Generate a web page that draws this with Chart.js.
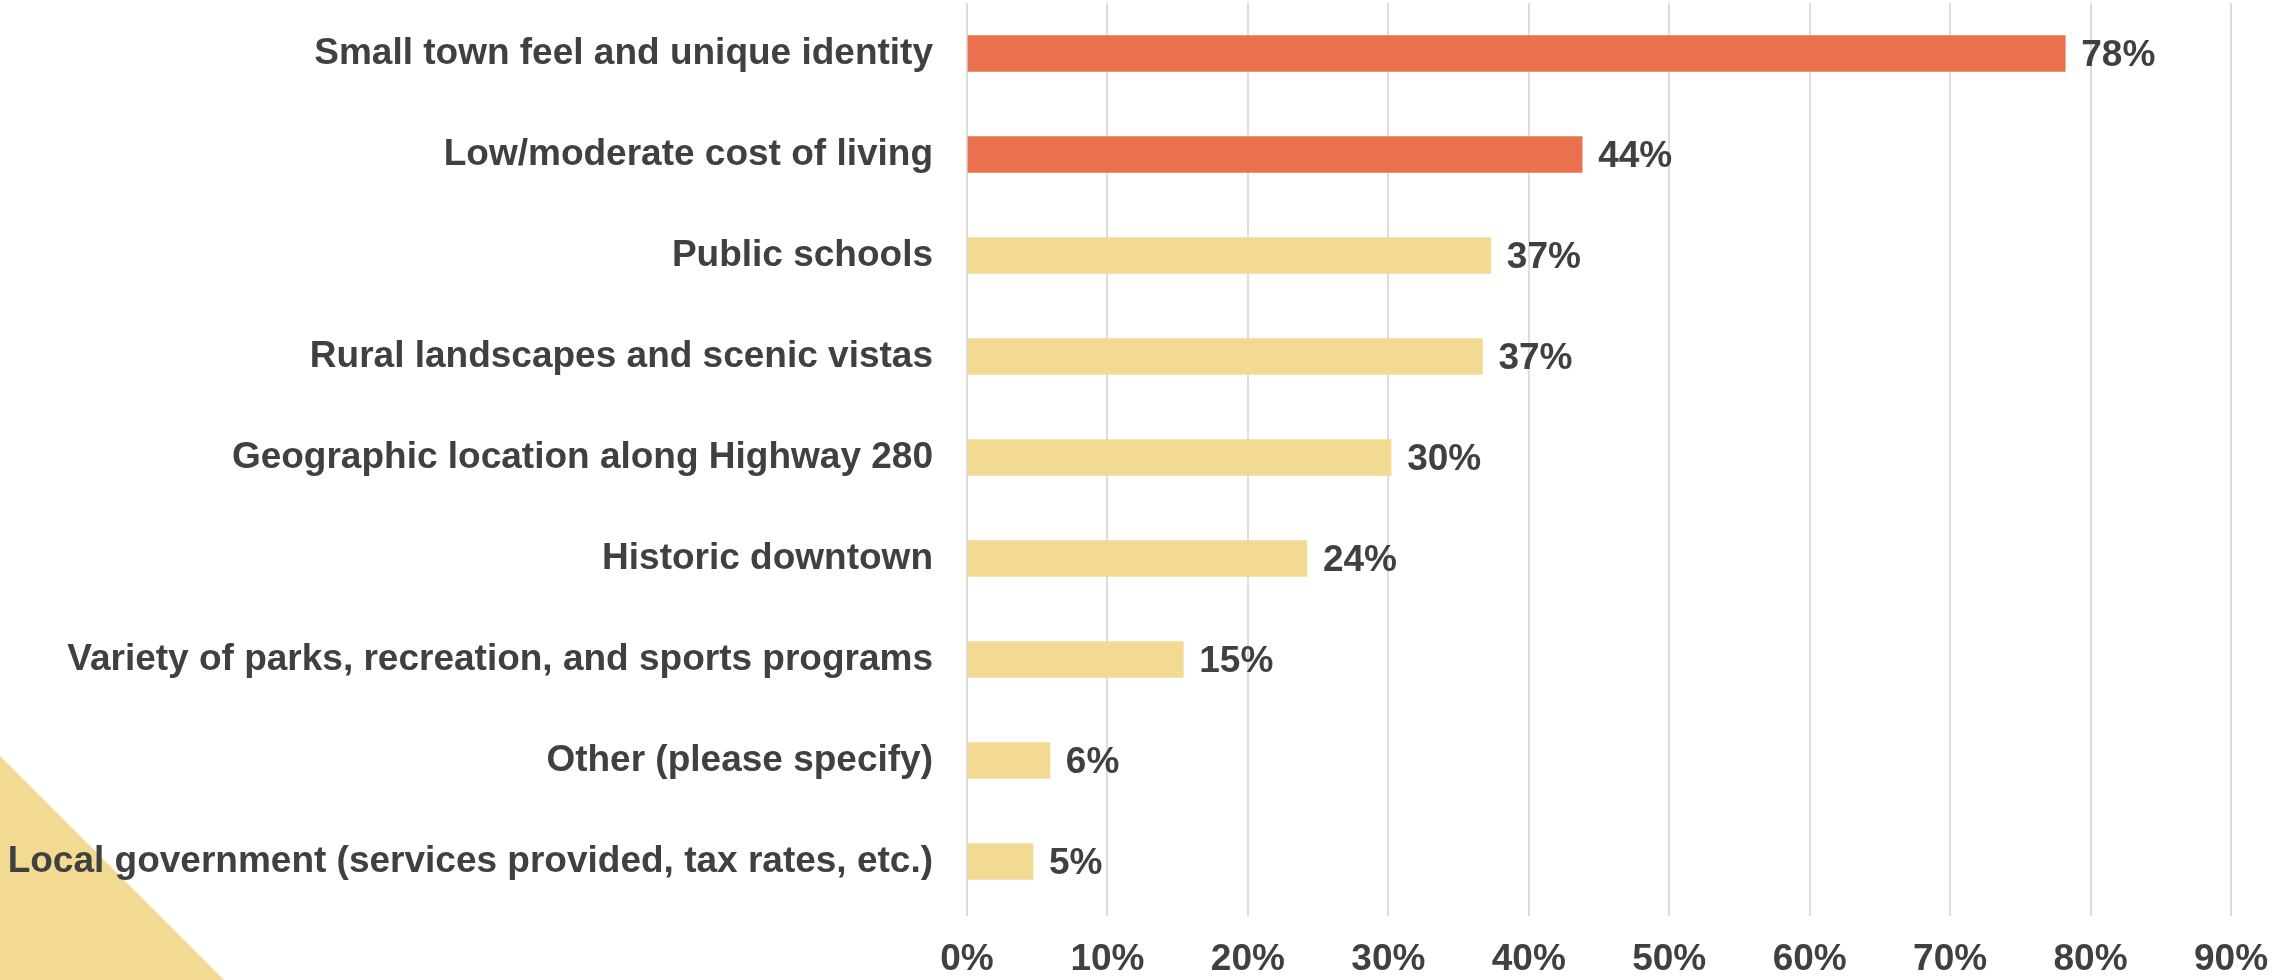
<!DOCTYPE html>
<html>
<head>
<meta charset="utf-8">
<script src="https://cdn.jsdelivr.net/npm/chart.js@4"></script>
<style>
  html, body { margin: 0; padding: 0; background: #fff; }
  #wrap { position: relative; width: 2272px; height: 980px; }
</style>
</head>
<body>
<div id="wrap"><canvas id="chart" width="2272" height="980"></canvas></div>
<script>
var categories = [
    'Small town feel and unique identity',
    'Low/moderate cost of living',
    'Public schools',
    'Rural landscapes and scenic vistas',
    'Geographic location along Highway 280',
    'Historic downtown',
    'Variety of parks, recreation, and sports programs',
    'Other (please specify)',
    'Local government (services provided, tax rates, etc.)'
];
var shares = [78.2, 43.8, 37.3, 36.7, 30.2, 24.2, 15.4, 5.9, 4.7];
var highlighted = [true, true, false, false, false, false, false, false, false];
var xTicks = [0, 10, 20, 30, 40, 50, 60, 70, 80, 90];

var ORANGE = '#E9714E';
var YELLOW = '#F2DA92';
var TEXT = '#404040';
var FONT = '"Liberation Sans", Arial, sans-serif';

// yellow corner in the bottom left
var cornerPlugin = {
    id: 'corner',
    beforeDraw: function (chart) {
        var ctx = chart.ctx;
        ctx.save();
        ctx.fillStyle = YELLOW;
        ctx.beginPath();
        ctx.moveTo(0, 756);
        ctx.lineTo(224, 980);
        ctx.lineTo(0, 980);
        ctx.closePath();
        ctx.fill();
        ctx.restore();
    }
};

// percentage labels at bar ends
var valueLabels = {
    id: 'valueLabels',
    afterDatasetsDraw: function (chart) {
        var ctx = chart.ctx;
        var meta = chart.getDatasetMeta(0);
        ctx.save();
        ctx.font = 'bold 37px ' + FONT;
        ctx.fillStyle = TEXT;
        ctx.textAlign = 'left';
        ctx.textBaseline = 'middle';
        meta.data.forEach(function (bar, i) {
            ctx.fillText(Math.round(shares[i]) + '%', bar.x + 16, bar.y + 2);
        });
        ctx.restore();
    }
};

new Chart(document.getElementById('chart'), {
    type: 'bar',
    data: {
        labels: categories,
        datasets: [{
            data: shares,
            backgroundColor: highlighted.map(function (h) { return h ? ORANGE : YELLOW; }),
            borderWidth: 0,
            barThickness: 36
        }]
    },
    options: {
        indexAxis: 'y',
        responsive: false,
        animation: false,
        layout: { padding: { top: 3, right: 41, bottom: 0, left: 0 } },
        plugins: {
            legend: { display: false },
            tooltip: { enabled: false }
        },
        scales: {
            x: {
                min: 0,
                max: 90,
                afterBuildTicks: function (scale) {
                    scale.ticks = xTicks.map(function (v) { return { value: v }; });
                },
                grid: { color: '#DDDDDD', lineWidth: 2, drawTicks: true, tickLength: 4 },
                border: { display: false },
                ticks: {
                    padding: 22,
                    color: TEXT,
                    font: { family: FONT, size: 37, weight: 'bold' },
                    callback: function (v) { return v + '%'; }
                },
                afterFit: function (scale) {
                    scale.height = 68;
                    scale.paddingLeft = 0;
                    scale.paddingRight = 0;
                }
            },
            y: {
                grid: { display: false, drawTicks: false },
                border: { display: false },
                ticks: {
                    padding: 34,
                    autoSkip: false,
                    color: TEXT,
                    font: { family: FONT, size: 37, weight: 'bold' }
                },
                afterFit: function (scale) {
                    scale.width = 967;
                    scale.paddingTop = 0;
                    scale.paddingBottom = 0;
                }
            }
        }
    },
    plugins: [cornerPlugin, valueLabels]
});
</script>
</body>
</html>
